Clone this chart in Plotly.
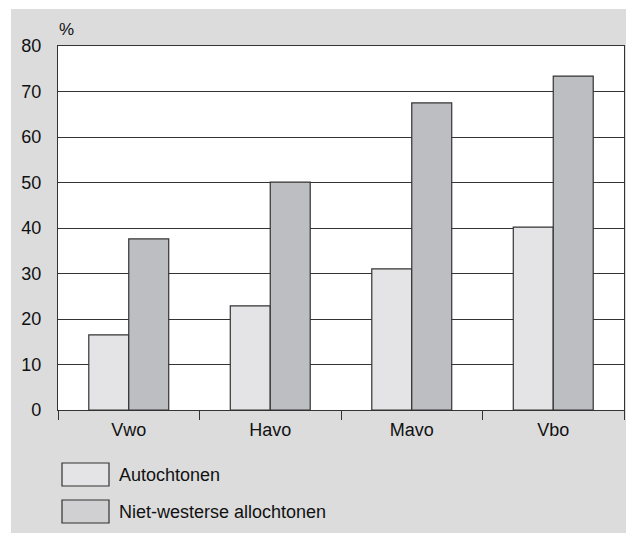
import plotly.graph_objects as go

categories = ["Vwo", "Havo", "Mavo", "Vbo"]
series_names = ["Autochtonen", "Niet-westerse allochtonen"]
autochtonen = [16.5, 22.9, 31.0, 40.2]
niet_westerse = [37.6, 50.1, 67.5, 73.4]
bar_colors = ["#e4e4e6", "#bdbec1"]
legend_colors = ["#e4e4e6", "#d0d0d2"]
y_ticks = [0, 10, 20, 30, 40, 50, 60, 70, 80]

FONT = "Liberation Sans, Arial, Helvetica, sans-serif"
LINE = "#333333"

fig = go.Figure()
for name, vals, col in zip(series_names, [autochtonen, niet_westerse], bar_colors):
    fig.add_trace(go.Bar(
        x=categories, y=vals, name=name,
        marker=dict(color=col, line=dict(color=LINE, width=1.2)),
        showlegend=False,
    ))

OFF = 8  # page body margin
W, H = 634, 533
L, R, T, B = 58 - OFF, 10 + OFF, 46 - OFF, 123 + OFF
pw, ph = W - L - R, H - T - B

def px(xw):
    return (xw - OFF - L) / pw

def py(yw):
    return (H - B - (yw - OFF)) / ph

shapes = [
    dict(type="rect", xref="paper", yref="paper", x0=px(-5), x1=px(650), y0=py(9), y1=py(-5),
         fillcolor="white", line=dict(width=0), layer="below"),
    dict(type="rect", xref="paper", yref="paper", x0=px(-5), x1=px(11), y0=py(550), y1=py(-5),
         fillcolor="white", line=dict(width=0), layer="below"),
]
annotations = [
    dict(text="%", xref="paper", yref="paper", x=px(57), y=py(30), xanchor="left", yanchor="middle",
         showarrow=False, font=dict(size=17, color="#111", family=FONT)),
]
legend_boxes = [(463, 486, 475), (500, 523, 512)]
for name, col, (top, bot, mid) in zip(series_names, legend_colors, legend_boxes):
    shapes.append(dict(type="rect", xref="paper", yref="paper", x0=px(62), x1=px(109),
                       y0=py(bot), y1=py(top), fillcolor=col, line=dict(color=LINE, width=1.2)))
    annotations.append(dict(text=name, xref="paper", yref="paper", x=px(117), y=py(mid),
                            xanchor="left", yanchor="middle", showarrow=False,
                            font=dict(size=18, color="#111", family=FONT)))

fig.update_layout(
    width=W, height=H,
    margin=dict(l=L, r=R, t=T, b=B, pad=0),
    paper_bgcolor="#dcdcdd",
    plot_bgcolor="white",
    barmode="group", bargap=0.435, bargroupgap=0,
    font=dict(family=FONT, size=18, color="#111"),
    shapes=shapes, annotations=annotations,
    xaxis=dict(showgrid=False, showline=True, linecolor=LINE, linewidth=1.2, mirror=True,
               ticks="outside", tickson="boundaries", ticklen=9, tickcolor=LINE, tickwidth=1.2,
               ticklabelstandoff=3,
               tickfont=dict(size=18, family=FONT, color="#111")),
    yaxis=dict(range=[0, 80], tickvals=y_ticks, showgrid=True, gridcolor=LINE, gridwidth=1.2,
               showline=True, linecolor=LINE, linewidth=1.2, mirror=True, zeroline=False,
               ticks="", ticklabelstandoff=12,
               tickfont=dict(size=18, family=FONT, color="#111")),
)

fig.write_html("out.html")
